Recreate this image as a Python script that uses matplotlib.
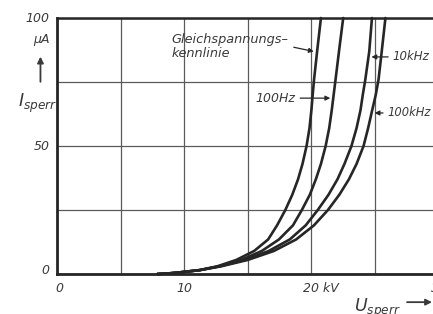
import matplotlib
matplotlib.use("Agg")
import matplotlib.pyplot as plt

# Data (U in kV, I in µA)
I_pts = [0, 0.2, 0.5, 1.5, 3, 5.5, 9, 13.5, 19, 25, 31, 37, 43, 50, 57, 64, 70, 76, 87, 100]
U_dc = [7.9, 8.7, 9.4, 11.2, 12.6, 14.1, 15.5, 16.6, 17.3, 17.95, 18.5, 18.95, 19.3,
        19.62, 19.85, 20.0, 20.1, 20.21, 20.45, 20.75]
U_100hz = [7.9, 8.7, 9.4, 11.2, 12.7, 14.5, 16.1, 17.45, 18.55, 19.25, 19.88, 20.35, 20.75,
           21.12, 21.4, 21.6, 21.75, 21.9, 22.17, 22.5]
U_10khz = [7.9, 8.7, 9.4, 11.2, 12.8, 14.8, 16.65, 18.3, 19.55, 20.5, 21.35, 22.05, 22.6,
           23.15, 23.55, 23.86, 24.04, 24.24, 24.55, 24.76]
U_100khz = [7.9, 8.7, 9.4, 11.2, 12.9, 15.0, 17.05, 18.8, 20.2, 21.3, 22.2, 22.95, 23.55,
            24.1, 24.46, 24.78, 25.06, 25.28, 25.53, 25.82]

x_ticks = [0, 10, 20, 30]
x_ticklabels = ["0", "10", "20 kV", "30"]
y_ticks = [0, 50, 100]
y_ticklabels = ["0", "50", "100"]

ink = "#262626"
gridc = "#5a5a5a"
txt = "#3a3a3a"
FONT = "DejaVu Sans"

fig = plt.figure(figsize=(4.33, 3.14), dpi=100)
fig.patch.set_facecolor("white")
ax = fig.add_axes([57/433, 40/314, 381.6/433, 256/314])
ax.set_xlim(0, 30)
ax.set_ylim(0, 100)

# grid
ax.set_xticks([5, 15, 25], minor=True)
ax.set_yticks([25, 75], minor=True)
ax.set_xticks(x_ticks)
ax.set_yticks(y_ticks)
ax.grid(True, which="both", color=gridc, linewidth=0.9)
ax.tick_params(which="both", length=0, labelbottom=False, labelleft=False)
for s in ["top", "right"]:
    ax.spines[s].set_visible(False)
for s in ["left", "bottom"]:
    ax.spines[s].set_linewidth(2.0)
    ax.spines[s].set_color(ink)
ax.axhline(100, color=ink, linewidth=1.8, clip_on=False)

# x tick labels
x_offsets = {"20 kV": 0.75}
for xv, lab in zip(x_ticks, x_ticklabels):
    ax.text(xv + x_offsets.get(lab, 0) + (0.15 if xv == 0 else 0), -5.5, lab,
            ha="center", va="center", fontsize=9, style="italic", color=txt,
            family=FONT, clip_on=False)

# y tick labels
y_pos = {0: 1.3, 50: 50, 100: 100}
for yv, lab in zip(y_ticks, y_ticklabels):
    ax.text(-0.6, y_pos[yv], lab, ha="right", va="center", fontsize=9,
            style="italic", color=txt, family=FONT)
ax.text(-0.6, 91.5, "µA", ha="right", va="center", fontsize=9, style="italic",
        color=txt, family=FONT)
ax.annotate("", xy=(-1.3, 86), xytext=(-1.3, 74), xycoords="data",
            arrowprops=dict(arrowstyle="-|>", color=txt, lw=1.3, mutation_scale=9),
            annotation_clip=False)
ax.text(0.05, 66.5, r"$\mathit{I}_{sperr}$", ha="right", va="center", fontsize=12.5,
        color=txt, family=FONT)

# x axis label
ax.text(27.0, -13.3, r"$\mathit{U}_{sperr}$", ha="right", va="center", fontsize=12.5,
        color=txt, family=FONT, clip_on=False)
ax.annotate("", xy=(29.7, -11.0), xytext=(27.3, -11.0),
            arrowprops=dict(arrowstyle="-|>", color=txt, lw=1.3, mutation_scale=9),
            annotation_clip=False)

# curves
for U in (U_dc, U_100hz, U_10khz, U_100khz):
    ax.plot(U, I_pts, color=ink, linewidth=1.9, solid_capstyle="round",
            solid_joinstyle="round", clip_on=False)

# labels with leaders
arrow = dict(arrowstyle="-|>", color=ink, lw=0.9, mutation_scale=7)
ax.text(9.0, 89.0, "Gleichspannungs\u2013\nkennlinie", ha="left", va="center",
        fontsize=9.3, style="italic", color=txt, family=FONT, linespacing=1.1)
ax.annotate("", xy=(20.4, 86.7), xytext=(18.4, 88.8), arrowprops=arrow)
ax.text(15.6, 68.7, "100Hz", ha="left", va="center", fontsize=9, style="italic",
        color=txt, family=FONT)
ax.annotate("", xy=(21.7, 68.7), xytext=(18.9, 68.7), arrowprops=arrow)
ax.text(26.35, 84.8, "10kHz", ha="left", va="center", fontsize=8.5, style="italic",
        color=txt, family=FONT)
ax.annotate("", xy=(24.5, 84.8), xytext=(26.25, 84.8), arrowprops=arrow)
ax.text(25.95, 62.9, "100kHz", ha="left", va="center", fontsize=8.3, style="italic",
        color=txt, family=FONT)
ax.annotate("", xy=(24.75, 62.9), xytext=(25.85, 62.9), arrowprops=arrow)

fig.savefig("out.png", dpi=100)
